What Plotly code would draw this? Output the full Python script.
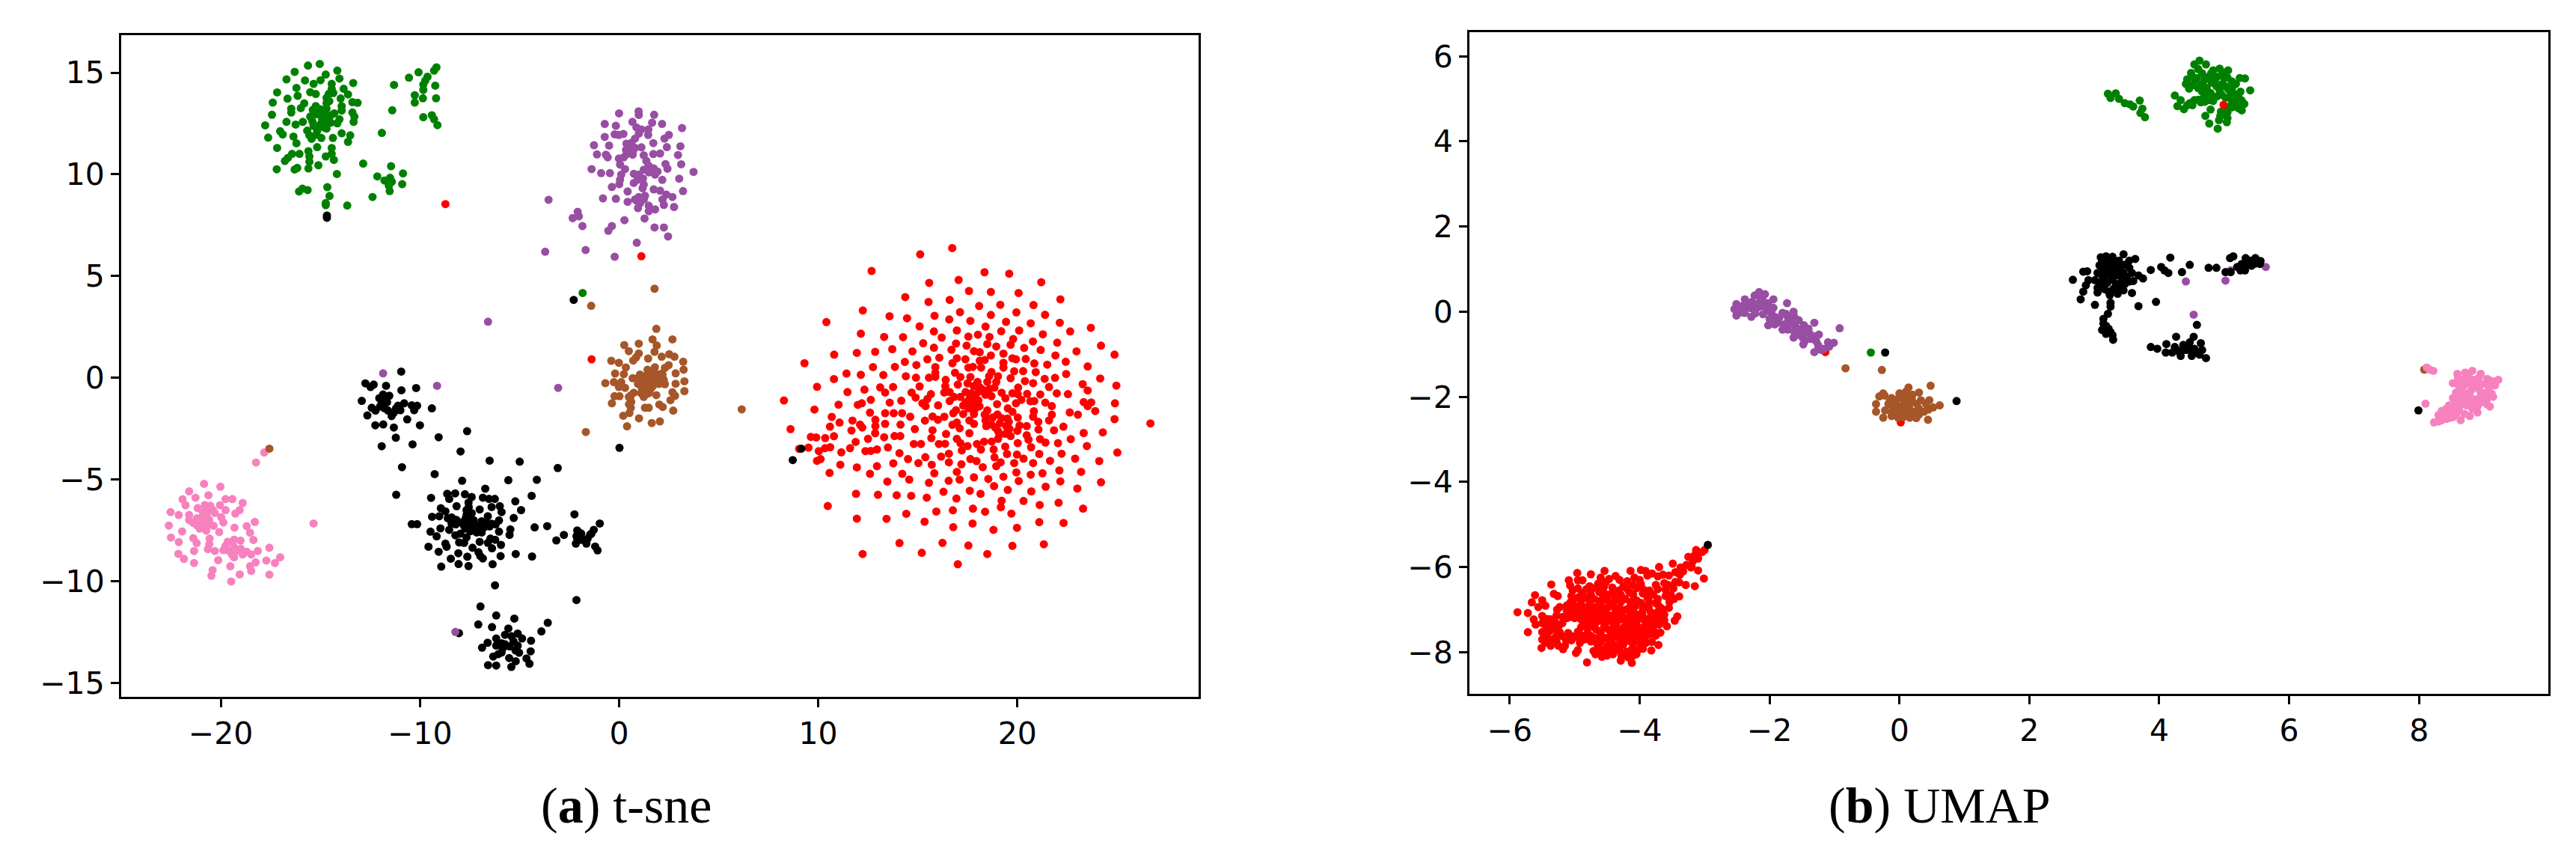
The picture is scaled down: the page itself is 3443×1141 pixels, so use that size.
import plotly.graph_objects as go

# ---- t-SNE panel values (x, y) ----
TSNE_RED = [(16.73,6.38),(15.12,6.07),(12.68,5.25),(18.35,5.19),(19.59,5.12),(17.05,4.81),(15.57,4.67),(21.2,4.7),(17.57,4.27),(18.67,4.22),(20.06,4.17),(14.37,3.97),(16.6,3.83),(15.54,3.73),(22.16,3.86),(18.08,3.53),(19.14,3.59),(20.81,3.58),(12.24,3.31),(17.12,3.23),(19.95,3.22),(13.58,3.03),(15.84,3.05),(18.67,3.09),(21.39,3.1),(14.46,2.93),(16.58,2.87),(17.64,2.8),(19.43,2.75),(10.41,2.74),(20.67,2.68),(22.13,2.71),(15.09,2.53),(18.4,2.52),(23.69,2.46),(20.09,2.33),(15.81,2.28),(16.96,2.33),(19.19,2.29),(22.65,2.28),(12.14,2.17),(21.28,2.14),(14.26,2.0),(13.31,2.01),(16.2,1.98),(18.02,2.12),(17.54,2.03),(18.6,2.01),(19.79,1.91),(20.78,1.79),(15.27,1.7),(16.92,1.69),(18.49,1.66),(19.66,1.63),(22.0,1.73),(24.2,1.58),(15.81,1.48),(17.45,1.58),(18.94,1.54),(20.34,1.47),(13.72,1.41),(21.17,1.37),(16.69,1.38),(17.82,1.31),(18.11,1.26),(12.86,1.28),(11.94,1.23),(14.73,1.3),(22.97,1.3),(10.8,1.14),(24.88,1.14),(19.3,1.19),(21.91,1.1),(18.67,1.1),(16.08,0.99),(15.48,0.91),(16.96,0.96),(17.39,0.91),(18.36,0.88),(18.11,0.84),(19.75,0.96),(19.93,0.91),(20.42,0.93),(22.43,0.79),(14.35,0.78),(9.31,0.72),(16.74,0.72),(19.3,0.74),(20.85,0.71),(21.5,0.65),(14.93,0.63),(13.85,0.54),(12.75,0.53),(23.53,0.56),(15.88,0.53),(17.54,0.5),(17.77,0.54),(18.18,0.5),(19.3,0.5),(22.45,0.19),(11.42,0.21),(12.14,0.15),(13.27,0.14),(15.88,0.25),(16.87,0.25),(18.7,0.29),(19.84,0.32),(20.29,0.33),(20.92,0.28),(14.4,0.08),(14.91,0.01),(15.56,0.01),(15.88,0.05),(17.14,0.04),(17.64,0.04),(18.58,0.08),(19.03,0.08),(19.66,-0.02),(10.79,-0.06),(21.37,-0.05),(21.89,0.0),(24.16,-0.03),(16.4,-0.1),(20.38,-0.16),(20.79,-0.26),(17.01,-0.33),(17.5,-0.27),(18.0,-0.2),(18.49,-0.2),(18.94,-0.2),(24.97,-0.38),(23.28,-0.31),(13.76,-0.45),(13.11,-0.47),(9.94,-0.44),(15.09,-0.42),(16.38,-0.41),(21.59,-0.45),(20.04,-0.48),(18.13,-0.48),(18.85,-0.48),(12.32,-0.58),(23.53,-0.62),(13.36,-0.72),(11.47,-0.7),(14.69,-0.72),(16.33,-0.72),(19.21,-0.73),(19.75,-0.76),(20.02,-0.8),(20.49,-0.79),(21.98,-0.76),(22.54,-0.8),(21.15,-0.82),(17.68,-0.76),(18.04,-0.69),(18.4,-0.83),(15.66,-0.8),(17.14,-0.94),(16.82,-0.94),(14.89,-0.97),(15.48,-1.04),(16.6,-1.14),(17.59,-1.04),(18.04,-1.11),(17.77,-1.22),(20.2,-1.08),(12.64,-1.08),(8.28,-1.11),(14.17,-1.12),(20.65,-1.15),(20.85,-1.14),(21.4,-1.22),(19.93,-1.25),(23.33,-1.19),(23.71,-1.21),(24.9,-1.25),(12.19,-1.25),(11.99,-1.33),(13.59,-1.22),(15.23,-1.25),(15.39,-1.39),(16.02,-1.35),(17.28,-1.36),(11.02,-1.32),(18.98,-1.29),(23.53,-1.39),(21.73,-1.39),(9.81,-1.56),(23.91,-1.63),(19.52,-1.5),(16.92,-1.59),(17.86,-1.56),(18.49,-1.6),(19.75,-1.67),(20.83,-1.64),(22.63,-1.7),(23.04,-1.81),(12.6,-1.71),(13.36,-1.74),(13.79,-1.74),(14.21,-1.74),(16.78,-1.74),(17.28,-1.78),(17.82,-1.78),(18.36,-1.81),(21.73,-1.81),(10.68,-1.92),(14.62,-1.91),(16.33,-1.91),(15.74,-1.9),(20.79,-1.91),(18.76,-1.95),(19.21,-1.98),(20.02,-1.95),(24.88,-2.03),(16.01,-2.06),(12.87,-2.06),(11.72,-2.1),(15.36,-2.1),(17.59,-2.09),(18.4,-2.09),(21.59,-2.09),(11.07,-2.2),(21.05,-2.16),(19.57,-2.16),(16.96,-2.2),(17.82,-2.26),(19.12,-2.23),(26.68,-2.24),(13.36,-2.26),(12.1,-2.3),(14.13,-2.3),(16.74,-2.31),(20.11,-2.34),(20.47,-2.37),(12.87,-2.37),(18.44,-2.37),(19.44,-2.37),(10.59,-2.4),(22.31,-2.4),(12.21,-2.44),(17.1,-2.48),(14.85,-2.52),(8.61,-2.52),(11.67,-2.59),(15.74,-2.58),(19.03,-2.62),(21.84,-2.58),(21.06,-2.54),(12.86,-2.72),(23.33,-2.71),(24.29,-2.68),(17.59,-2.72),(16.42,-2.76),(19.66,-2.86),(20.47,-2.82),(9.63,-2.9),(9.9,-2.93),(10.79,-2.87),(10.35,-2.96),(13.83,-2.86),(14.12,-2.86),(13.31,-2.92),(12.5,-3.0),(15.68,-2.96),(16.96,-3.0),(21.14,-3.01),(20.56,-3.04),(19.03,-3.0),(22.68,-3.01),(18.71,-3.13),(21.41,-3.18),(11.88,-3.15),(14.8,-3.25),(15.16,-3.25),(16.06,-3.25),(16.37,-3.24),(17.14,-3.21),(17.97,-3.25),(18.33,-3.14),(20.02,-3.21),(22.04,-3.21),(10.6,-3.41),(9.51,-3.43),(9.04,-3.49),(10.34,-3.46),(11.6,-3.46),(13.5,-3.42),(17.5,-3.35),(19.39,-3.38),(20.69,-3.41),(23.49,-3.35),(10.03,-3.6),(12.37,-3.6),(12.64,-3.59),(12.95,-3.52),(17.21,-3.57),(18.17,-3.52),(18.81,-3.52),(11.16,-3.66),(14.08,-3.7),(16.56,-3.73),(19.48,-3.74),(19.98,-3.77),(21.1,-3.74),(22.22,-3.73),(25.02,-3.67),(15.38,-3.9),(16.17,-3.87),(18.85,-3.91),(20.31,-3.97),(22.9,-3.97),(10.12,-3.99),(9.94,-4.08),(14.51,-3.99),(17.64,-3.99),(17.95,-4.09),(16.56,-4.15),(15.03,-4.19),(13.77,-4.2),(21.64,-4.08),(24.11,-4.09),(11.11,-4.27),(17.19,-4.25),(19.16,-4.15),(19.84,-4.19),(20.79,-4.19),(15.7,-4.27),(11.94,-4.4),(12.95,-4.34),(18.26,-4.39),(18.94,-4.34),(22.11,-4.55),(19.95,-4.65),(23.2,-4.62),(10.57,-4.67),(15.83,-4.69),(16.96,-4.62),(14.22,-4.72),(12.6,-4.72),(20.67,-4.76),(21.26,-4.69),(17.82,-4.89),(19.3,-4.86),(14.57,-5.0),(17.1,-5.0),(18.54,-4.97),(13.47,-5.1),(15.56,-5.16),(16.55,-5.06),(20.07,-5.07),(22.16,-5.09),(24.2,-5.13),(18.83,-5.32),(21.42,-5.35),(23.01,-5.44),(16.29,-5.6),(17.61,-5.55),(19.52,-5.51),(20.7,-5.58),(11.9,-5.7),(13.0,-5.75),(13.94,-5.77),(14.67,-5.8),(18.15,-5.7),(15.45,-5.89),(16.94,-5.93),(19.21,-6.04),(20.31,-6.05),(22.07,-6.14),(21.12,-6.25),(10.48,-6.3),(19.17,-6.36),(17.77,-6.43),(23.3,-6.43),(15.93,-6.57),(16.76,-6.51),(18.38,-6.58),(19.7,-6.67),(14.42,-6.68),(11.94,-6.92),(13.43,-6.93),(15.34,-7.07),(21.1,-7.09),(22.32,-7.13),(17.75,-7.16),(16.78,-7.34),(19.98,-7.37),(18.8,-7.47),(14.08,-8.12),(16.24,-8.11),(21.33,-8.18),(17.54,-8.24),(19.75,-8.26),(12.23,-8.66),(15.2,-8.6),(18.49,-8.66),(17.01,-9.16),(-8.72,8.54),(1.12,5.98),(-1.38,0.91),
 (17.9,-1.0),(18.3,-0.6),(17.4,-0.7),(18.1,-1.4),(18.7,-0.9),(19.4,-1.0),(19.0,-1.8),(19.5,-2.0),(18.7,-2.3),(19.6,-2.5),(18.9,-2.45),(20.0,-2.6),(19.4,-2.75),(17.4,-1.2),(16.6,-0.7),(17.8,-0.4),(18.6,-0.55),(19.1,-2.8),(18.45,-1.95),(17.55,-1.5)]

TSNE_GREEN = [(-15.62,15.35),(-15.03,15.43),(-14.15,15.1),(-16.29,15.04),(-14.73,14.91),(-14.04,14.71),(-16.7,14.67),(-15.77,14.62),(-14.99,14.63),(-13.35,14.49),(-15.34,14.45),(-14.43,14.45),(-16.2,14.25),(-14.43,14.21),(-13.83,14.21),(-15.51,14.04),(-17.17,14.03),(-15.23,13.95),(-14.58,13.95),(-13.61,13.93),(-16.14,13.86),(-14.69,13.76),(-16.65,13.72),(-13.98,13.73),(-17.39,13.53),(-13.39,13.55),(-13.13,13.52),(-15.81,13.49),(-14.69,13.49),(-15.23,13.36),(-15.98,13.26),(-13.93,13.36),(-14.69,13.23),(-16.46,13.23),(-13.93,13.14),(-15.38,13.17),(-16.46,13.04),(-15.01,13.06),(-13.39,13.04),(-17.43,12.93),(-13.29,12.84),(-14.47,12.91),(-15.51,12.84),(-14.04,12.71),(-14.91,12.71),(-16.7,12.58),(-15.88,12.58),(-13.33,12.58),(-14.47,12.54),(-14.15,12.51),(-16.24,12.45),(-15.01,12.45),(-15.34,12.38),(-17.77,12.41),(-14.69,12.25),(-15.66,12.15),(-17.02,12.12),(-13.93,12.02),(-15.16,12.12),(-16.89,11.96),(-13.5,11.92),(-15.55,11.92),(-16.35,11.86),(-17.62,11.81),(-14.95,11.79),(-14.37,11.79),(-15.44,11.75),(-13.61,11.6),(-16.2,11.53),(-15.16,11.34),(-17.17,11.3),(-14.43,11.3),(-15.6,11.14),(-16.05,11.01),(-16.42,11.01),(-14.43,11.01),(-14.73,10.88),(-15.55,10.88),(-16.63,10.81),(-14.32,10.71),(-16.78,10.66),(-15.55,10.62),(-15.1,10.45),(-15.6,10.29),(-16.16,10.32),(-16.29,10.24),(-17.19,10.25),(-14.17,10.02),(-12.85,10.53),(-11.45,10.4),(-10.85,10.05),(-12.14,9.9),(-11.5,9.83),(-11.78,9.7),(-11.41,9.64),(-11.56,9.44),(-10.89,9.52),(-11.52,9.18),(-12.38,8.89),(-14.65,9.37),(-14.54,8.94),(-16.07,9.16),(-15.9,9.3),(-15.64,9.23),(-13.65,8.47),(-14.73,8.49),(-14.73,8.59),(-11.91,12.04),(-11.39,13.15),(-11.3,14.4),(-10.55,14.75),(-10.07,15.02),(-9.17,15.26),(-9.29,15.1),(-9.62,14.8),(-9.73,14.61),(-9.83,14.41),(-9.83,14.15),(-9.23,14.36),(-10.26,13.89),(-10.26,13.53),(-9.85,13.74),(-9.19,13.74),(-9.83,12.81),(-9.4,12.91),(-9.29,12.71),(-9.12,12.42),(-1.83,4.17),
 (-15.0,13.2),(-14.8,13.0),(-14.6,12.85),(-15.2,12.95),(-14.9,12.6),(-15.1,12.3),(-14.6,12.55),(-14.8,12.3),(-14.55,13.6),(-14.5,14.0),(-14.35,14.0),(-15.4,12.6),(-15.2,11.95),(-14.3,13.0)]

TSNE_PURPLE = [(0.0,13.0),(0.98,13.1),(0.99,12.92),(1.76,12.93),(-0.72,12.48),(-0.16,12.39),(0.67,12.58),(1.66,12.54),(2.16,12.48),(3.16,12.28),(0.87,12.31),(1.12,12.21),(1.47,12.21),(0.99,12.0),(1.46,11.94),(-0.22,11.97),(-0.01,11.94),(0.22,11.99),(-0.72,11.84),(2.5,11.94),(2.28,11.76),(0.8,11.76),(0.62,11.55),(0.37,11.51),(1.72,11.54),(-1.26,11.43),(-0.5,11.42),(3.08,11.38),(2.4,11.34),(0.49,11.31),(0.8,11.31),(1.12,11.33),(-1.11,10.98),(-0.66,10.97),(-0.57,10.84),(2.96,10.95),(0.55,11.09),(0.37,10.99),(0.68,10.97),(1.24,10.94),(1.72,11.0),(2.06,11.03),(-0.01,10.78),(0.24,10.84),(1.37,10.66),(2.33,10.51),(3.12,10.5),(0.05,10.48),(2.43,10.28),(1.49,10.42),(1.74,10.29),(-1.38,10.26),(0.3,10.26),(1.24,10.23),(1.93,10.14),(3.74,10.12),(-0.9,10.06),(-0.46,10.06),(0.11,9.99),(0.74,10.03),(0.99,9.99),(1.81,9.99),(0.05,9.74),(3.02,9.79),(2.17,9.73),(0.93,9.74),(0.74,9.58),(0.01,9.52),(1.24,9.5),(-0.36,9.38),(1.18,9.32),(1.74,9.26),(2.06,9.2),(3.21,9.18),(0.43,9.16),(2.37,9.01),(2.68,8.89),(-0.81,8.82),(-0.16,8.8),(0.99,8.89),(1.24,8.77),(2.18,8.77),(0.43,8.65),(0.8,8.77),(1.05,8.58),(2.25,8.5),(1.49,8.46),(2.76,8.4),(0.95,8.34),(1.81,8.28),(1.49,8.19),(-3.54,8.75),(-2.08,8.16),(-2.33,7.85),(-2.02,7.94),(-1.84,7.46),(0.27,7.75),(1.28,7.83),(-0.36,7.46),(-0.54,7.23),(1.78,7.39),(2.25,7.39),(2.46,6.95),(0.89,6.64),(-3.71,6.2),(-1.68,6.28),(-0.22,5.95),(-6.58,2.76),(-11.85,0.22),(-9.14,-0.39),(-3.06,-0.49),(-8.22,-12.49),
 (0.35,11.2),(0.6,11.3),(0.45,11.05),(0.7,11.15),(1.5,10.1),(1.2,9.8),(1.3,8.95),(0.9,8.7)]

TSNE_BROWN = [(1.87,2.41),(2.68,1.89),(1.68,1.89),(0.26,1.61),(0.99,1.68),(1.89,1.59),(0.49,1.31),(1.78,1.28),(0.99,1.2),(2.52,1.16),(2.14,1.04),(2.78,1.04),(0.86,1.01),(0.71,0.85),(1.46,0.95),(-0.39,0.84),(-0.01,0.74),(3.22,0.79),(0.34,0.51),(2.49,0.62),(2.3,0.49),(1.8,0.52),(1.43,0.4),(3.24,0.4),(-0.2,0.21),(0.24,0.18),(2.84,0.22),(1.74,0.28),(2.18,0.16),(1.05,0.16),(1.24,0.04),(0.68,-0.02),(1.87,-0.02),(2.24,-0.09),(-0.69,-0.26),(-0.26,-0.21),(0.11,-0.21),(3.28,-0.17),(2.84,-0.29),(1.18,-0.27),(1.55,-0.27),(2.3,-0.31),(-0.01,-0.45),(0.3,-0.49),(1.24,-0.51),(1.61,-0.51),(3.28,-0.65),(2.68,-0.71),(0.74,-0.73),(1.11,-0.76),(1.49,-0.76),(1.87,-0.85),(-0.23,-0.9),(0.02,-0.9),(0.49,-0.94),(2.81,-0.88),(1.24,-0.94),(2.58,-1.1),(-0.36,-1.25),(0.61,-1.18),(2.02,-1.31),(2.19,-1.43),(1.3,-1.47),(1.49,-1.47),(0.59,-1.47),(2.72,-1.61),(0.52,-1.73),(0.21,-1.86),(1.0,-1.99),(2.05,-2.14),(1.64,-2.22),(0.4,-2.38),(-1.67,-2.66),(6.16,-1.55),(-1.4,3.54),(1.78,4.38),(-17.56,-3.48),
 (1.35,0.1),(1.55,0.12),(1.4,-0.1),(1.7,-0.1),(1.1,-0.1),(1.3,-0.35),(1.7,-0.4),(2.0,-0.3),(1.95,0.15),(2.1,0.2),(1.5,-0.65),(1.15,-0.55),(1.35,-0.8),(0.95,0.0),(0.55,-1.0),(0.5,-1.3),(0.6,-0.85),(0.95,-0.3)]

TSNE_BLACK = [(-10.94,0.31),(-12.74,-0.27),(-12.48,-0.45),(-12.32,-0.33),(-11.7,-0.39),(-10.93,-0.61),(-10.19,-0.5),(-11.85,-0.82),(-11.54,-0.88),(-12.04,-1.0),(-12.92,-1.13),(-11.79,-1.06),(-11.92,-1.25),(-12.42,-1.47),(-10.79,-1.25),(-11.1,-1.37),(-10.41,-1.35),(-10.14,-1.37),(-12.23,-1.61),(-11.79,-1.49),(-11.6,-1.61),(-10.98,-1.59),(-10.29,-1.59),(-9.4,-1.5),(-12.64,-1.85),(-11.42,-1.88),(-10.64,-2.04),(-12.24,-2.33),(-11.84,-2.29),(-11.31,-2.44),(-10.0,-2.33),(-11.21,-2.94),(-9.06,-2.92),(-7.63,-2.62),(-11.92,-3.36),(-10.37,-3.27),(-7.96,-3.62),(-6.5,-4.07),(-4.99,-4.12),(-3.08,-4.43),(-10.9,-4.39),(-9.26,-4.73),(-7.88,-5.06),(-5.56,-5.03),(-4.13,-5.01),(-6.72,-5.45),(-11.19,-5.75),(-9.44,-5.9),(-8.63,-5.7),(-8.23,-5.68),(-7.74,-5.72),(-8.53,-5.95),(-7.4,-5.86),(-6.84,-5.89),(-6.53,-5.95),(-6.24,-5.95),(-4.39,-5.8),(-5.21,-6.07),(-7.56,-6.13),(-8.16,-6.31),(-6.4,-6.35),(-5.99,-6.31),(-8.95,-6.41),(-7.0,-6.47),(-4.92,-6.5),(-7.66,-6.5),(-8.72,-6.56),(-5.9,-6.6),(-9.39,-6.83),(-9.03,-6.8),(-6.59,-6.8),(-7.66,-6.74),(-8.41,-6.86),(-5.29,-6.89),(-8.16,-6.99),(-6.03,-7.01),(-6.9,-7.05),(-7.9,-7.11),(-7.53,-6.99),(-6.4,-7.17),(-8.41,-7.17),(-10.41,-7.19),(-10.14,-7.19),(-7.28,-7.23),(-4.24,-7.35),(-3.61,-7.29),(-8.97,-7.4),(-6.78,-7.35),(-5.46,-7.45),(-7.72,-7.41),(-8.53,-7.47),(-9.47,-7.56),(-6.03,-7.56),(-7.15,-7.6),(-7.47,-7.54),(-7.97,-7.66),(-6.9,-7.6),(-5.5,-7.72),(-8.22,-7.74),(-9.16,-7.79),(-7.66,-7.84),(-6.46,-7.9),(-6.22,-7.96),(-8.03,-8.09),(-7.0,-8.06),(-7.78,-8.11),(-6.59,-8.11),(-8.72,-8.15),(-5.93,-8.21),(-9.57,-8.3),(-8.66,-8.3),(-7.36,-8.35),(-6.38,-8.38),(-9.06,-8.55),(-8.07,-8.62),(-7.06,-8.57),(-5.19,-8.66),(-5.95,-8.76),(-7.62,-8.79),(-6.97,-8.76),(-8.45,-8.89),(-6.84,-8.88),(-4.37,-8.78),(-8.06,-9.15),(-6.35,-9.16),(-7.56,-9.25),(-8.93,-9.28),(-6.23,-10.2),(-2.14,-10.92),(-2.24,-6.71),(-0.97,-7.16),(-2.77,-7.72),(-3.15,-7.99),(-2.1,-7.5),(-1.27,-7.47),(-1.39,-7.66),(-2.14,-7.78),(-1.58,-7.9),(-1.89,-7.96),(-2.17,-8.15),(-1.64,-8.15),(-1.2,-8.29),(-1.08,-8.48),(-6.96,-11.24),(-6.17,-11.68),(-5.26,-11.83),(-7.07,-12.12),(-6.38,-12.25),(-3.58,-12.04),(-5.56,-12.32),(-3.9,-12.46),(-8.04,-12.55),(-5.09,-12.57),(-5.73,-12.63),(-4.87,-12.81),(-6.17,-12.81),(-4.42,-12.92),(-6.6,-13.02),(-5.3,-12.95),(-5.73,-13.09),(-6.17,-13.16),(-5.09,-13.16),(-6.88,-13.26),(-5.84,-13.3),(-5.02,-13.51),(-4.44,-13.44),(-6.06,-13.58),(-6.32,-13.7),(-5.52,-13.77),(-4.65,-13.79),(-5.19,-13.93),(-4.5,-14.05),(-6.58,-14.12),(-6.17,-14.14),(-5.41,-14.21),(9.15,-3.48),(8.72,-4.04),(-14.67,7.87),(-14.67,7.98),(-2.28,3.83),(0.02,-3.44),
 (-7.7,-6.9),(-7.45,-7.2),(-7.6,-7.3),(-7.3,-7.0),(-7.2,-7.4),(-7.8,-7.25),(-8.2,-7.2),(-6.5,-7.3),(-6.65,-7.15),(-7.0,-7.25),(-7.55,-6.35),(-7.4,-6.65),(-6.2,-7.2),(-8.3,-6.95),(-8.6,-6.9),(-5.5,-13.2),(-5.9,-13.05),(-5.4,-12.7),(-5.2,-13.4),(-5.9,-13.5),(-11.7,-0.95),(-11.65,-1.2),(-11.3,-1.7),(-11.2,-1.5),(-12.0,-1.4),(-1.9,-7.65),(-2.1,-7.9),(-1.45,-7.7)]

TSNE_PINK = [(-20.84,-5.21),(-20.02,-5.35),(-21.59,-5.58),(-20.62,-5.77),(-21.92,-5.97),(-21.27,-5.89),(-19.76,-5.96),(-19.42,-5.96),(-18.9,-6.15),(-21.77,-6.26),(-20.52,-6.29),(-20.04,-6.26),(-21.16,-6.4),(-19.76,-6.5),(-22.52,-6.6),(-22.11,-6.74),(-19.05,-6.5),(-19.27,-6.67),(-20.77,-6.6),(-20.3,-6.64),(-21.59,-6.74),(-19.98,-6.85),(-20.95,-6.85),(-21.59,-6.99),(-20.58,-6.99),(-19.87,-7.11),(-18.29,-7.08),(-21.38,-7.13),(-20.95,-7.2),(-22.61,-7.26),(-20.36,-7.27),(-18.7,-7.29),(-19.31,-7.36),(-15.34,-7.16),(-21.06,-7.41),(-20.73,-7.51),(-21.94,-7.55),(-20.08,-7.58),(-18.53,-7.61),(-22.5,-7.85),(-21.38,-7.88),(-20.56,-7.9),(-19.33,-7.95),(-19.01,-8.0),(-19.65,-8.05),(-22.11,-8.07),(-21.21,-8.12),(-18.36,-7.97),(-20.58,-8.18),(-19.76,-8.26),(-19.33,-8.33),(-20.65,-8.42),(-17.56,-8.35),(-21.34,-8.51),(-20.3,-8.51),(-18.14,-8.51),(-19.87,-8.47),(-22.13,-8.65),(-19.44,-8.68),(-18.47,-8.68),(-18.9,-8.68),(-17.02,-8.82),(-19.33,-8.82),(-21.85,-8.9),(-20.13,-8.96),(-17.71,-8.98),(-18.25,-9.07),(-17.28,-9.1),(-21.34,-9.1),(-19.52,-9.26),(-18.53,-9.26),(-20.41,-9.45),(-18.47,-9.49),(-19.05,-9.66),(-20.47,-9.73),(-17.56,-9.67),(-19.48,-10.01),(-18.23,-4.16),(-17.82,-3.67),
 (-20.9,-6.6),(-20.7,-6.8),(-21.2,-6.9),(-20.6,-7.2),(-20.8,-7.05),(-21.2,-7.25),(-20.4,-6.5),(-19.4,-8.1),(-19.2,-8.5),(-18.7,-8.55),(-20.8,-6.25),(-20.6,-6.5),(-19.6,-8.5),(-19.0,-8.4)]

# ---- UMAP panel values (x, y) ----
UMAP_RED = [(-5.88,-7.06),(-5.72,-7.08),(-5.72,-7.53),(-5.61,-6.66),(-5.66,-6.83),(-5.5,-6.78),(-5.56,-6.94),(-5.45,-6.91),(-5.36,-6.41),(-5.32,-6.63),(-5.26,-6.68),(-5.09,-6.31),(-5.07,-6.43),(-4.96,-6.14),(-4.95,-6.31),(-4.88,-6.31),(-4.75,-6.17),(-4.54,-6.09),(-4.77,-6.45),(-4.64,-6.39),(-4.52,-6.36),(-4.37,-6.21),(-4.31,-6.3),(-4.19,-6.33),(-4.14,-6.09),(-3.98,-6.07),(-3.91,-6.09),(-4.0,-6.3),(-3.81,-6.15),(-3.7,-6.0),(-3.64,-6.18),(-3.49,-5.92),(-3.45,-6.12),(-3.37,-6.01),(-3.25,-5.76),(-3.18,-5.86),(-3.1,-5.8),(-3.13,-5.6),(-3.04,-5.65),(-3.0,-5.6),(-3.21,-6.01),(-3.1,-6.08),(-3.01,-6.27),(-3.15,-6.45),(-3.39,-6.36),(-3.29,-6.42),(-3.39,-6.69),(-3.56,-6.42),(-3.75,-6.42),(-3.94,-6.53),(-3.52,-6.65),(-3.6,-6.53),(-3.79,-6.65),(-3.54,-6.82),(-3.64,-7.0),(-3.75,-6.85),(-3.83,-7.06),(-3.94,-6.91),(-4.1,-6.65),(-4.16,-6.59),(-4.29,-6.65),(-4.41,-6.59),(-4.56,-6.59),(-4.48,-6.65),(-4.62,-6.59),(-4.75,-6.65),(-4.89,-6.62),(-5.05,-6.68),(-5.06,-6.82),(-4.9,-6.8),(-4.77,-6.85),(-4.6,-6.85),(-4.41,-6.85),(-4.21,-7.0),(-4.06,-6.91),(-5.23,-6.94),(-5.27,-7.0),(-5.12,-7.03),(-4.98,-7.06),(-4.85,-7.03),(-4.69,-7.06),(-4.52,-7.09),(-4.37,-7.06),(-4.02,-7.12),(-3.69,-7.2),(-3.42,-7.16),(-3.46,-7.26),(-3.58,-7.39),(-5.63,-7.23),(-5.5,-7.15),(-5.6,-7.35),(-5.37,-7.23),(-5.19,-7.17),(-5.19,-7.32),(-5.35,-7.35),(-4.9,-7.23),(-4.75,-7.26),(-4.6,-7.26),(-4.44,-7.26),(-4.29,-7.23),(-4.14,-7.29),(-3.94,-7.23),(-3.79,-7.29),(-3.87,-7.47),(-4.02,-7.47),(-4.17,-7.47),(-4.33,-7.47),(-4.48,-7.47),(-4.67,-7.47),(-4.81,-7.41),(-4.9,-7.41),(-5.1,-7.55),(-5.23,-7.53),(-5.38,-7.5),(-5.5,-7.53),(-5.5,-7.7),(-5.37,-7.7),(-5.29,-7.64),(-5.13,-7.73),(-4.98,-7.64),(-4.85,-7.7),(-4.69,-7.67),(-4.52,-7.67),(-4.37,-7.64),(-4.21,-7.7),(-4.06,-7.64),(-3.91,-7.64),(-3.75,-7.61),(-3.68,-7.54),(-3.71,-7.83),(-3.81,-7.76),(-3.82,-7.96),(-3.98,-7.85),(-4.12,-7.93),(-4.25,-7.82),(-4.37,-7.85),(-4.5,-7.85),(-4.65,-7.82),(-5.15,-7.85),(-5.18,-7.93),(-4.95,-7.95),(-4.98,-8.02),(-5.51,-7.9),(-5.37,-7.85),(-4.71,-7.97),(-4.58,-8.11),(-4.52,-7.96),(-4.41,-8.05),(-4.29,-8.2),(-4.12,-8.25),(-4.1,-8.08),(-4.81,-8.24),(-4.21,-7.99),(-4.87,-6.94),(-4.48,-6.94),(-4.29,-6.82),(-4.67,-6.94),(-5.06,-7.17),(4.99,4.86),(-1.14,-0.95),(0.02,-2.6),
 (-4.6,-6.25),(-4.47,-6.28),(-4.08,-6.25),(-3.88,-6.2),(-3.72,-6.22),(-3.55,-6.2),(-3.38,-6.18),(-3.28,-5.95),(-3.33,-6.1),(-3.15,-5.72),(-3.2,-5.98),(-5.03,-6.55),(-4.72,-6.5),(-4.55,-6.47),(-4.42,-6.48),(-4.25,-6.45),(-4.1,-6.42),(-3.98,-6.4),(-3.72,-6.52),(-3.62,-6.38),(-3.48,-6.5),(-3.45,-6.35),(-4.32,-6.55),(-5.0,-6.74),(-4.82,-6.72),(-4.7,-6.75),(-4.56,-6.72),(-4.38,-6.72),(-4.22,-6.75),(-4.05,-6.78),(-3.88,-6.72),(-3.72,-6.75),(-3.47,-6.75),(-3.95,-6.62),(-5.12,-6.9),(-4.98,-6.92),(-4.8,-6.95),(-4.58,-6.95),(-4.38,-6.95),(-4.14,-6.92),(-3.86,-6.95),(-3.68,-6.95),(-3.55,-6.96),(-5.05,-7.08),(-4.92,-7.12),(-4.78,-7.12),(-4.62,-7.1),(-4.44,-7.14),(-4.28,-7.1),(-4.14,-7.14),(-3.96,-7.1),(-3.8,-7.12),(-3.72,-7.05),(-3.62,-7.12),(-5.42,-7.22),(-5.5,-7.32),(-5.3,-7.3),(-5.12,-7.2),(-4.85,-7.3),(-4.68,-7.32),(-4.52,-7.3),(-4.36,-7.32),(-4.2,-7.35),(-4.05,-7.32),(-3.88,-7.35),(-3.7,-7.35),(-3.62,-7.25),(-5.44,-7.48),(-5.3,-7.46),(-4.95,-7.52),(-4.8,-7.54),(-4.6,-7.55),(-4.4,-7.56),(-4.25,-7.55),(-4.1,-7.55),(-3.95,-7.52),(-3.78,-7.5),(-5.43,-7.62),(-5.45,-7.78),(-5.28,-7.75),(-5.05,-7.72),(-4.92,-7.78),(-4.75,-7.75),(-4.6,-7.75),(-4.44,-7.74),(-4.3,-7.72),(-4.14,-7.75),(-4.0,-7.72),(-3.9,-7.78),(-4.6,-7.95),(-4.45,-7.92),(-4.32,-7.95),(-4.15,-7.98),(-4.03,-7.95),(-4.68,-8.05),(-4.5,-8.08),(-4.28,-8.08),(-4.18,-8.12),(-4.05,-8.05),
 (-4.95,-6.5),(-4.82,-6.52),(-4.62,-6.5),(-4.2,-6.5),(-4.05,-6.5),(-3.85,-6.55),(-4.95,-6.72),(-4.62,-6.8),(-4.5,-6.78),(-4.33,-6.76),(-4.14,-6.82),(-3.98,-6.84),(-3.85,-6.82),(-3.6,-6.68),(-5.05,-6.98),(-4.9,-6.98),(-4.72,-7.0),(-4.52,-7.0),(-4.3,-6.98),(-4.1,-7.02),(-3.95,-7.0),(-3.72,-6.88),(-5.28,-7.14),(-5.0,-7.2),(-4.82,-7.18),(-4.68,-7.2),(-4.52,-7.18),(-4.37,-7.2),(-4.2,-7.2),(-4.05,-7.22),(-3.88,-7.22),(-3.75,-7.2),(-5.25,-7.4),(-5.45,-7.36),(-4.72,-7.4),(-4.55,-7.42),(-4.4,-7.4),(-4.25,-7.42),(-4.1,-7.4),(-3.95,-7.42),(-3.8,-7.42),(-5.2,-7.62),(-5.05,-7.62),(-4.9,-7.6),(-4.75,-7.62),(-4.6,-7.62),(-4.45,-7.62),(-4.3,-7.6),(-4.15,-7.62),(-3.98,-7.6),(-3.84,-7.58),(-5.45,-7.68),(-5.25,-7.85),(-4.62,-7.88),(-4.42,-7.8),(-4.3,-7.85),(-4.1,-7.8),(-3.95,-7.92),(-4.5,-8.0),(-4.4,-7.95)]

UMAP_GREEN = [(4.62,5.9),(4.54,5.81),(4.72,5.81),(4.6,5.7),(4.49,5.61),(4.93,5.71),(5.06,5.67),(4.83,5.67),(4.43,5.46),(4.58,5.49),(4.76,5.52),(4.89,5.52),(5.0,5.49),(4.41,5.35),(4.51,5.32),(4.66,5.35),(4.81,5.38),(4.97,5.35),(5.12,5.41),(5.24,5.49),(5.32,5.48),(5.18,5.35),(5.4,5.2),(4.66,5.17),(4.79,5.14),(4.93,5.2),(5.06,5.23),(5.25,5.17),(5.16,5.11),(4.24,5.08),(4.64,4.92),(4.54,4.97),(4.76,4.97),(4.89,5.06),(5.02,5.03),(5.27,4.96),(4.33,4.97),(5.16,4.91),(5.31,4.88),(4.28,4.83),(4.43,4.85),(4.38,4.76),(4.51,4.85),(5.27,4.73),(5.08,4.82),(4.79,4.75),(4.71,4.6),(5.05,4.68),(4.94,4.6),(4.92,4.5),(5.04,4.45),(4.77,4.42),(4.9,4.3),(3.21,5.12),(3.33,5.13),(3.25,5.02),(3.38,5.0),(3.47,4.9),(3.6,4.82),(3.7,4.96),(3.74,4.77),(3.71,4.67),(3.78,4.57),(3.55,4.87),(-0.44,-0.96),
 (4.5,5.55),(4.66,5.6),(4.8,5.6),(4.98,5.62),(4.55,5.42),(4.7,5.45),(4.86,5.44),(5.05,5.5),(4.46,5.24),(4.6,5.25),(4.73,5.26),(4.88,5.3),(5.02,5.3),(5.12,5.25),(4.7,5.08),(4.82,5.05),(4.96,5.1),(5.1,5.15),(5.22,5.05),(4.7,4.93),(4.83,4.95),(5.1,5.0),(5.2,4.9),(5.12,4.8),(5.22,4.78),(4.47,4.9),(4.6,4.98),(4.67,5.0),(5.05,4.55),(4.95,4.7),(5.05,4.75)]

UMAP_BROWN = [(0.48,-1.74),(0.14,-1.78),(-0.25,-1.92),(-0.23,-1.97),(-0.31,-1.99),(0.0,-1.92),(0.1,-1.88),(0.3,-1.9),(-0.12,-2.03),(0.05,-2.03),(0.19,-2.03),(0.46,-2.08),(-0.36,-2.17),(-0.17,-2.17),(-0.03,-2.2),(0.1,-2.17),(0.27,-2.17),(0.41,-2.17),(0.62,-2.2),(0.52,-2.25),(-0.36,-2.35),(-0.12,-2.35),(0.05,-2.35),(0.21,-2.35),(0.38,-2.35),(-0.25,-2.49),(-0.02,-2.49),(0.16,-2.49),(0.44,-2.54),(-0.83,-1.33),(-0.27,-1.37),(8.08,-1.36),
 (-0.15,-2.1),(-0.05,-2.08),(0.08,-2.1),(0.2,-2.12),(0.33,-2.08),(-0.1,-2.25),(0.03,-2.22),(0.15,-2.26),(0.3,-2.28),(0.45,-2.3),(-0.22,-2.32),(-0.05,-2.35),(0.12,-2.4),(0.3,-2.42),(-0.12,-2.45),(0.06,-2.48),(0.26,-2.5),(0.0,-2.0),(0.12,-1.95),(0.2,-1.95)]

UMAP_PURPLE = [(-2.16,0.46),(-2.23,0.38),(-2.07,0.41),(-2.38,0.29),(-2.51,0.18),(-2.54,0.06),(-2.51,-0.09),(-2.4,0.15),(-2.27,0.23),(-2.13,0.26),(-1.94,0.29),(-2.38,-0.03),(-2.28,-0.12),(-2.21,0.06),(-2.07,0.12),(-2.1,-0.06),(-1.73,0.2),(-1.94,0.09),(-1.8,-0.03),(-1.63,0.0),(-2.0,-0.17),(-2.02,-0.32),(-1.88,-0.26),(-1.8,-0.42),(-1.71,-0.2),(-1.55,-0.2),(-1.6,-0.35),(-1.47,-0.32),(-1.31,-0.26),(-1.44,-0.47),(-1.24,-0.54),(-1.63,-0.61),(-1.49,-0.61),(-1.36,-0.64),(-1.48,-0.77),(-0.92,-0.39),(-1.01,-0.73),(-1.08,-0.82),(-1.25,-0.79),(-1.31,-0.95),(-1.16,-0.87),(4.41,0.71),(5.02,0.73),(5.1,0.97),(5.64,1.05),(4.53,-0.07),
 (-2.45,0.1),(-2.48,0.0),(-2.42,-0.02),(-2.35,0.1),(-2.28,0.08),(-2.33,0.2),(-2.2,0.18),(-2.15,0.35),(-2.1,0.25),(-2.02,0.2),(-2.15,0.12),(-2.22,-0.04),(-2.02,0.03),(-1.97,-0.05),(-1.92,-0.12),(-1.85,-0.14),(-1.75,-0.05),(-1.72,-0.12),(-1.62,-0.12),(-1.92,-0.3),(-1.78,-0.3),(-1.7,-0.3),(-1.62,-0.24),(-1.72,-0.42),(-1.62,-0.47),(-1.53,-0.42),(-1.54,-0.55),(-1.4,-0.4),(-1.38,-0.52),(-1.3,-0.58),(-1.45,-0.68),(-1.28,-0.7),(-1.2,-0.9),(-1.1,-0.72),(-1.25,-0.88)]

UMAP_BLACK = [(3.45,1.35),(2.67,0.75),(2.89,0.95),(2.83,0.94),(3.1,1.28),(3.18,1.3),(3.28,1.29),(3.63,1.24),(3.54,1.2),(3.08,1.09),(3.2,1.12),(3.31,1.12),(3.45,1.09),(3.54,1.03),(3.05,0.91),(3.18,0.94),(3.31,0.94),(3.45,0.91),(3.58,0.91),(3.68,0.85),(3.75,0.78),(3.01,0.74),(3.14,0.77),(3.28,0.77),(3.43,0.74),(3.54,0.71),(2.91,0.74),(2.87,0.62),(2.83,0.47),(2.79,0.29),(3.05,0.56),(3.16,0.53),(3.29,0.53),(3.45,0.5),(3.58,0.44),(3.24,0.39),(3.01,0.16),(3.25,0.21),(3.25,0.12),(3.68,0.13),(3.95,0.23),(3.21,-0.05),(3.14,-0.17),(3.14,-0.28),(3.12,-0.43),(3.22,-0.4),(3.18,-0.52),(3.28,-0.55),(3.29,-0.66),(3.87,0.98),(4.03,1.05),(4.08,0.97),(4.14,0.91),(4.17,1.27),(4.35,0.93),(4.47,1.1),(4.76,1.03),(4.88,1.03),(5.02,0.93),(5.1,0.93),(5.09,1.26),(5.14,1.3),(5.25,0.97),(5.32,0.97),(5.33,1.26),(5.27,1.12),(5.39,1.15),(5.48,1.26),(5.48,1.13),(5.56,1.19),(4.58,-0.31),(4.26,-0.59),(4.53,-0.59),(4.64,-0.74),(4.11,-0.76),(3.87,-0.83),(3.97,-0.87),(4.1,-0.96),(4.2,-0.96),(4.24,-0.83),(4.37,-0.78),(4.47,-0.72),(4.41,-0.9),(4.54,-0.87),(4.66,-0.9),(4.33,-1.04),(4.5,-1.04),(4.62,-1.01),(4.72,-1.09),(-2.95,-5.48),(-0.22,-0.96),(0.88,-2.1),(7.99,-2.32),
 (3.12,1.2),(3.25,1.18),(3.38,1.2),(3.14,1.02),(3.25,1.03),(3.37,1.03),(3.5,1.12),(3.12,0.85),(3.24,0.86),(3.37,0.85),(3.5,0.82),(3.08,0.68),(3.2,0.68),(3.33,0.66),(3.47,0.65),(3.6,0.72),(3.1,0.62),(3.22,0.47),(3.38,0.58),(3.36,0.42),(3.05,0.45),(5.4,1.2),(5.33,1.08),(5.46,1.2),(5.3,1.02),(5.2,1.05),(5.55,1.12),(5.42,1.08),(4.35,-0.9),(4.45,-0.82),(4.5,-0.95),(4.58,-0.96),(4.28,-0.92),(3.2,-0.42),(3.25,-0.48),(3.18,-0.33)]

UMAP_PINK = [(8.12,-1.31),(8.16,-1.36),(8.22,-1.39),(8.82,-1.39),(8.59,-1.46),(8.71,-1.43),(8.95,-1.46),(9.22,-1.6),(9.12,-1.63),(8.52,-1.68),(8.68,-1.6),(8.84,-1.6),(9.01,-1.7),(9.17,-1.73),(8.68,-1.76),(8.84,-1.76),(8.57,-1.9),(8.73,-1.93),(8.95,-1.9),(9.12,-1.93),(8.52,-2.03),(8.68,-2.06),(8.87,-2.06),(9.04,-2.06),(9.14,-2.0),(8.1,-2.16),(9.09,-2.23),(8.54,-2.2),(8.73,-2.2),(8.9,-2.23),(8.35,-2.33),(8.49,-2.33),(8.62,-2.33),(8.9,-2.37),(8.78,-2.45),(8.3,-2.43),(8.43,-2.43),(8.57,-2.41),(8.64,-2.55),(8.23,-2.6),(8.35,-2.55),(8.46,-2.5),
 (8.6,-1.55),(8.76,-1.52),(8.92,-1.55),(9.05,-1.58),(8.6,-1.72),(8.76,-1.68),(8.92,-1.68),(9.08,-1.78),(8.63,-1.84),(8.8,-1.85),(8.92,-1.82),(9.03,-1.9),(8.62,-2.0),(8.78,-1.98),(8.95,-2.0),(8.62,-2.12),(8.8,-2.12),(8.95,-2.13),(9.04,-2.17),(8.46,-2.2),(8.62,-2.22),(8.82,-2.28),(8.42,-2.28),(8.55,-2.3),(8.7,-2.4),(8.5,-2.42),(8.32,-2.5),(8.42,-2.52),(8.52,-2.48),(8.3,-2.58)]

TSNE_XTICKS = [-20, -10, 0, 10, 20]
TSNE_YTICKS = [-15, -10, -5, 0, 5, 10, 15]
UMAP_XTICKS = [-6, -4, -2, 0, 2, 4, 6, 8]
UMAP_YTICKS = [-8, -6, -4, -2, 0, 2, 4, 6]

RED, GREEN, PURPLE, BROWN, BLACK, PINK = "#ff0000", "#008000", "#984ea3", "#a65628", "#000000", "#f781bf"
W, H = 3443 - 16, 1141 - 16   # the page body adds an 8 px margin
PAD = 8
MARKER = 11

def dx(px):
    return (px - PAD) / W

def dy(py):
    return 1 - (py - PAD) / H

fig = go.Figure()

def add(points, color, xa, ya):
    fig.add_trace(go.Scatter(
        x=[p[0] for p in points], y=[p[1] for p in points], mode="markers",
        marker=dict(color=color, size=MARKER, line=dict(width=0)),
        xaxis=xa, yaxis=ya, showlegend=False, hoverinfo="skip"))

for pts, c in [(TSNE_GREEN, GREEN), (TSNE_RED, RED), (TSNE_PINK, PINK), (TSNE_BROWN, BROWN), (TSNE_BLACK, BLACK), (TSNE_PURPLE, PURPLE)]:
    add(pts, c, "x", "y")
for pts, c in [(UMAP_GREEN, GREEN), (UMAP_RED, RED), (UMAP_BROWN, BROWN), (UMAP_PINK, PINK), (UMAP_PURPLE, PURPLE), (UMAP_BLACK, BLACK)]:
    add(pts, c, "x2", "y2")

axis = dict(showgrid=False, zeroline=False, showline=True, mirror=True, linecolor="black", linewidth=3,
            ticks="outside", ticklen=11, tickwidth=3, tickcolor="black",
            tickfont=dict(family="DejaVu Sans", size=41, color="black"))

fig.update_layout(
    width=W, height=H, margin=dict(l=0, r=0, t=0, b=0), paper_bgcolor="white", plot_bgcolor="white", showlegend=False,
    xaxis=dict(axis, domain=[dx(162), dx(1602)], range=[-25.0, 29.1], tickvals=TSNE_XTICKS, anchor="y"),
    yaxis=dict(axis, domain=[dy(936), dy(47)], range=[-15.68, 16.85], tickvals=TSNE_YTICKS, anchor="x"),
    xaxis2=dict(axis, domain=[dx(1964), dx(3406)], range=[-6.62, 9.99], tickvals=UMAP_XTICKS, anchor="y2"),
    yaxis2=dict(axis, domain=[dy(932), dy(43)], range=[-8.98, 6.57], tickvals=UMAP_YTICKS, anchor="x2"),
    annotations=[
        dict(text="(<b>a</b>) t-sne", x=dx(837), y=dy(1082), xref="paper", yref="paper", showarrow=False,
             xanchor="center", yanchor="middle", font=dict(family="Liberation Serif", size=68, color="black")),
        dict(text="(<b>b</b>) UMAP", x=dx(2592), y=dy(1082), xref="paper", yref="paper", showarrow=False,
             xanchor="center", yanchor="middle", font=dict(family="Liberation Serif", size=68, color="black")),
    ])

fig.write_html("out.html")
